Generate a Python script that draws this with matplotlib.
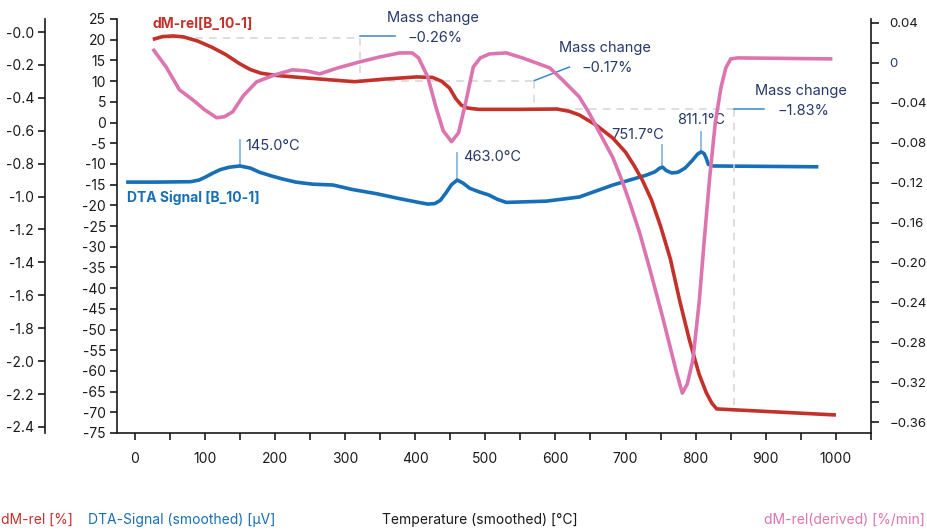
import matplotlib
matplotlib.use("Agg")
import matplotlib.pyplot as plt
from matplotlib.ticker import MultipleLocator

plt.rcParams['font.family'] = ['Inter', 'DejaVu Sans']
plt.rcParams['axes.unicode_minus'] = False

# DTA signal (smoothed) [µV]
dta_T = [-12, 30, 80, 92, 102, 112, 122, 135, 150, 165, 178, 195, 210, 230, 254, 283,
         311, 345, 378, 405, 418, 428, 436, 444, 452, 460, 468, 478, 492, 505, 518,
         530, 587, 634, 682, 730, 742, 749, 753, 758, 766, 775, 785, 795, 803, 808,
         812, 815, 818, 824, 900, 975]
dta_uV = [-14.4, -14.4, -14.3, -13.9, -13.1, -12.2, -11.4, -10.8, -10.5, -11.0, -12.0,
          -12.9, -13.6, -14.4, -14.9, -15.1, -16.2, -17.2, -18.4, -19.3, -19.7, -19.6,
          -18.8, -17.0, -15.0, -13.9, -14.6, -15.9, -16.8, -17.5, -18.6, -19.3, -19.0,
          -18.0, -15.1, -12.7, -11.9, -11.0, -10.8, -11.6, -12.2, -12.0, -11.0, -9.2,
          -7.6, -7.1, -7.5, -8.6, -10.1, -10.5, -10.6, -10.7]

# dM-rel [%]
dm_T = [26, 40, 55, 70, 90, 110, 130, 150, 165, 180, 200, 235, 283, 314, 354, 402,
        425, 438, 449, 458, 466, 475, 490, 550, 602, 620, 634, 658, 682, 700, 712,
        724, 737, 750, 764, 777, 791, 805, 815, 823, 830, 838, 1000]
dm_pct = [-0.045, -0.028, -0.024, -0.030, -0.055, -0.092, -0.137, -0.193, -0.228,
          -0.250, -0.263, -0.276, -0.292, -0.302, -0.287, -0.273, -0.276, -0.300,
          -0.340, -0.405, -0.445, -0.462, -0.470, -0.470, -0.468, -0.482, -0.504,
          -0.565, -0.645, -0.730, -0.810, -0.900, -1.020, -1.180, -1.380, -1.628,
          -1.870, -2.080, -2.190, -2.255, -2.290, -2.292, -2.327]

# dM-rel (derived) [%/min]
der_T = [26, 45, 64, 83, 100, 117, 128, 140, 155, 174, 200, 225, 245, 264, 290, 321,
         350, 378, 396, 405, 418, 430, 440, 452, 462, 473, 483, 493, 506, 530, 553,
         592, 610, 634, 648, 663, 682, 695, 706, 720, 734, 753, 773, 781, 788, 796,
         805, 812, 820, 828, 836, 843, 850, 860, 995]
der_val = [0.014, -0.004, -0.027, -0.037, -0.047, -0.055, -0.054, -0.049, -0.033,
           -0.019, -0.012, -0.007, -0.008, -0.011, -0.005, 0.001, 0.006, 0.010, 0.010,
           0.005, -0.014, -0.045, -0.068, -0.079, -0.07, -0.037, -0.004, 0.005, 0.009,
           0.010, 0.005, -0.005, -0.017, -0.034, -0.05, -0.070, -0.095, -0.118, -0.140,
           -0.170, -0.205, -0.255, -0.311, -0.331, -0.322, -0.298, -0.24, -0.18,
           -0.115, -0.06, -0.025, -0.005, 0.004, 0.005, 0.004]

# mass change steps
step_T = [28, 321, 570, 855]
step_level = [-0.035, -0.295, -0.465, -2.295]
step_labels = ["\u22120.26%", "\u22120.17%", "\u22121.83%"]

# DTA peaks
peak_T = [150, 460, 752, 808]
peak_uV = [-10.4, -13.7, -10.6, -7.1]
peak_labels = ["145.0°C", "463.0°C", "751.7°C", "811.1°C"]

RED = "#c4312b"
BLUE = "#176fb7"
PINK = "#dc74b0"
NAVY = "#26396a"
LEAD = "#3a86c8"
PEAKLINE = "#86b7e3"
DASH = "#d4d4d4"
INK = "#1a1a1a"

W, H = 927, 531
fig = plt.figure(figsize=(W / 100, H / 100), dpi=100)
ax = fig.add_axes([117 / W, 1 - 433 / H, 754 / W, 414 / H])
ax_dm = ax.twinx()
ax_der = ax.twinx()

ax.set_xlim(-25, 1050)
ax.set_ylim(-75, 25)
ax_dm.set_ylim(-2.4365, 0.079)
ax_der.set_ylim(-0.371, 0.044)

ax.plot(dta_T, dta_uV, color=BLUE, lw=2.6, solid_joinstyle='round', solid_capstyle='butt')
ax_dm.plot(dm_T, dm_pct, color=RED, lw=2.6, solid_joinstyle='round', solid_capstyle='butt')
ax_der.plot(der_T, der_val, color=PINK, lw=2.6, solid_joinstyle='round', solid_capstyle='butt')

# spines
for a in (ax, ax_dm, ax_der):
    for s in a.spines.values():
        s.set_visible(False)
        s.set_linewidth(1.2)
        s.set_color(INK)
ax.spines['left'].set_visible(True)
ax.spines['bottom'].set_visible(True)
ax_dm.spines['left'].set_visible(True)
ax_dm.spines['left'].set_position(('axes', -72 / 754))
ax_dm.yaxis.set_ticks_position('left')
ax_dm.yaxis.set_label_position('left')
ax_der.spines['right'].set_visible(True)

# ticks
ax.set_xticks(range(0, 1001, 100))
ax.xaxis.set_minor_locator(MultipleLocator(50))
ax.tick_params(axis='x', which='both', length=5, width=1.2, pad=8.5,
               labelsize=10, colors=INK)
ax.set_yticks(range(-75, 26, 5))
ax.tick_params(axis='y', length=5, width=1.2, pad=3, labelsize=10, colors=INK)

dm_ticks = [-0.2 * i for i in range(13)]
ax_dm.set_yticks(dm_ticks, [f"-{abs(v):.1f}" for v in dm_ticks])
ax_dm.tick_params(axis='y', length=5, width=1.2, pad=3, labelsize=10, colors=INK)

der_ticks = [0.04 - 0.04 * i for i in range(11)]
def der_fmt(v):
    if abs(v) < 1e-9:
        return "0"
    return f"{v:.2f}" if v > 0 else f"\u2212{abs(v):.2f}"
ax_der.set_yticks(der_ticks, [der_fmt(v) for v in der_ticks])
ax_der.set_yticks([0.02 - 0.04 * i for i in range(10)], minor=True)
ax_der.tick_params(axis='y', which='both', length=6, width=1.2, pad=7.5,
                   labelsize=9.5, colors=INK)
for lab in ax_der.get_yticklabels():
    if lab.get_text() == "0":
        lab.set_color(NAVY)

# mass change construction lines
dkw = dict(color=DASH, lw=1.1, ls=(0, (5, 4)), zorder=1)
for i in range(3):
    ax_dm.plot([step_T[i], step_T[i + 1]], [step_level[i], step_level[i]], **dkw)
    ax_dm.plot([step_T[i + 1], step_T[i + 1]], [step_level[i], step_level[i + 1]], **dkw)

ax_dm.plot([321, 371], [-0.027, -0.027], color=LEAD, lw=1.1)
ax_dm.plot([570, 620], [-0.295, -0.213], color=LEAD, lw=1.1)
ax_dm.plot([855, 898], [-0.465, -0.465], color=LEAD, lw=1.1)

mc_pos = [(426, 25.2, 20.4), (671, 18.0, 13.2), (950, 7.6, 2.8)]
for (tx, y1, y2), lab in zip(mc_pos, step_labels):
    ax.text(tx, y1, "Mass change", color=NAVY, fontsize=10.5, ha='center', va='center')
    ax.text(tx + 3, y2, lab, color=NAVY, fontsize=10.5, ha='center', va='center')

# DTA peak markers
peak_top = [-4.2, -7.4, -5.4, -2.3]
for t, v, top in zip(peak_T, peak_uV, peak_top):
    ax.plot([t, t], [v, top], color=PEAKLINE, lw=1.3, zorder=1)
ax.text(158, -5.7, peak_labels[0], color=NAVY, fontsize=10.5, ha='left', va='center')
ax.text(468, -8.3, peak_labels[1], color=NAVY, fontsize=10.5, ha='left', va='center')
ax.text(755, -3.0, peak_labels[2], color=NAVY, fontsize=10.5, ha='right', va='center')
ax.text(808, 0.6, peak_labels[3], color=NAVY, fontsize=10.5, ha='center', va='center')

# series labels
ax.text(25.7, 23.8, "dM-rel[B_10-1]", color=RED, fontsize=10, fontweight='bold',
        ha='left', va='center')
ax.text(-11.4, -18.2, "DTA Signal [B_10-1]", color=BLUE, fontsize=10, fontweight='bold',
        ha='left', va='center')

# axis titles along the bottom
yb = 1 - 520 / H
fig.text(1 / W, yb, "dM-rel [%]", color=RED, fontsize=10, ha='left', va='center')
fig.text(88 / W, yb, "DTA-Signal (smoothed) [µV]", color=BLUE, fontsize=10, ha='left', va='center')
fig.text(480 / W, yb, "Temperature (smoothed) [°C]", color=INK, fontsize=10, ha='center', va='center')
fig.text(925 / W, yb, "dM-rel(derived) [%/min]", color=PINK, fontsize=10, ha='right', va='center')

fig.savefig("out.png", dpi=100)
